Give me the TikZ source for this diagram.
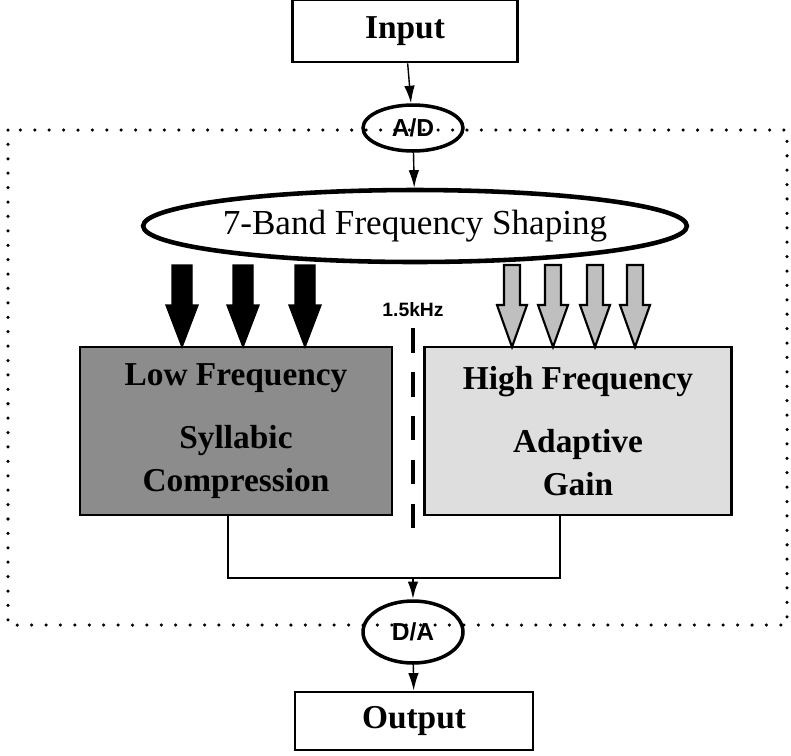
\documentclass[tikz,border=0pt]{standalone}
\usepackage{fontspec}
\setmainfont{Liberation Serif}
\setsansfont{Liberation Sans}
\usetikzlibrary{shapes.geometric,arrows.meta,calc}

\def\px{0.02cm}

\begin{document}
\begin{tikzpicture}[x=\px,y=-\px,font=\rmfamily]
    \tikzstyle{block}=[rectangle,draw=black,line width=1.6pt,inner sep=0pt,font=\fontsize{19}{24}\selectfont\bfseries]
    \tikzstyle{conv}=[ellipse,draw=black,line width=2pt,inner sep=0pt,font=\sffamily\bfseries\fontsize{14}{16}\selectfont]
    \tikzstyle{link}=[line width=0.8pt,-{Latex[length=10pt,width=6pt]}]
    \tikzstyle{bus}=[line width=1.4pt]
    \tikzstyle{blackarrow}=[fill=black,draw=black,line width=0.8pt]
    \tikzstyle{grayarrow}=[fill=black!25,draw=black,line width=1.2pt]

    \useasboundingbox (0,0) rectangle (791,755);

    % dotted frame of the processor
    \draw[line width=2pt,line cap=round,dash pattern=on 0pt off 8.2pt] (8,130) rectangle (787,625);

    \node[block,minimum width=4.5cm,minimum height=1.24cm] (input) at (405,31) {Input};
    \node[conv,minimum width=2cm,minimum height=0.92cm] (ad) at (413,128) {A/D};
    \node[ellipse,draw=black,line width=2.6pt,minimum width=10.48cm,minimum height=1.44cm,inner sep=0pt,
          font=\fontsize{20}{22}\selectfont] (shaping) at (415,226) {7-Band Frequency Shaping};

    \node[block,fill=black!45,minimum width=6.24cm,minimum height=3.36cm,align=center] (low) at (236,431)
        {Low Frequency\\[12pt]Syllabic\\Compression};
    \node[block,fill=black!13,minimum width=6.14cm,minimum height=3.36cm,align=center] (high) at (578,431)
        {High Frequency\\[12pt]Adaptive\\Gain};

    \node[conv,minimum width=2cm,minimum height=1.24cm] (da) at (413,632) {D/A};
    \node[block,minimum width=4.76cm,minimum height=1.16cm] (output) at (414,721) {Output};

    \node[font=\sffamily\bfseries\fontsize{11}{12}\selectfont] (split) at (413,310) {1.5kHz};
    \draw[line width=2.2pt,dash pattern=on 14pt off 11pt] (413,328) -- (413,540);

    \draw[link] (input) -- (ad);
    \draw[link] (ad) -- (shaping);

    % band outputs into the two blocks
    \foreach \x in {182,243,305}
        \draw[blackarrow] (\x-10,265) -- (\x+10,265) -- (\x+10,305) -- (\x+16,305) -- (\x,347)
            -- (\x-16,305) -- (\x-10,305) -- cycle;
    \foreach \x in {512,553,595,635}
        \draw[grayarrow] (\x-8,265) -- (\x+8,265) -- (\x+8,305) -- (\x+15,305) -- (\x,347)
            -- (\x-15,305) -- (\x-8,305) -- cycle;

    \coordinate (join) at (413,578);
    \draw[bus] ([xshift=-0.16cm]low.south) |- (join);
    \draw[bus] ([xshift=-0.36cm]high.south) |- (join);
    \draw[link,line width=1.4pt] (join) -- (da);
    \draw[link] (da) -- (output);
\end{tikzpicture}
\end{document}
